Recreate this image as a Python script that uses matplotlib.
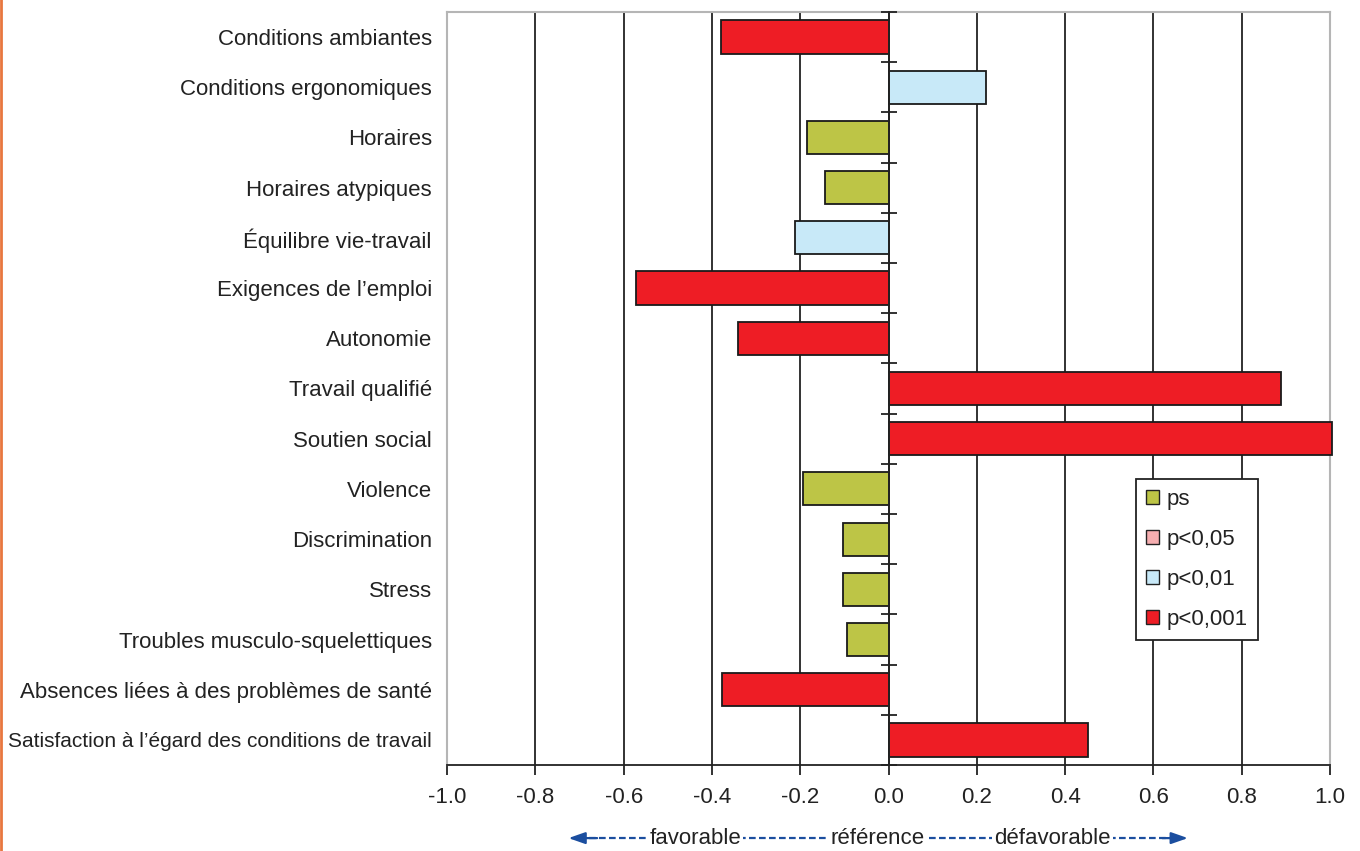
import numpy as np
import matplotlib
matplotlib.use("Agg")
import matplotlib.pyplot as plt
from matplotlib.lines import Line2D
from matplotlib.patches import Patch
import matplotlib.transforms as mtransforms

plt.rcParams['font.family'] = ['Liberation Sans', 'DejaVu Sans']

# ---- donnees ----
categories = [
    "Conditions ambiantes",
    "Conditions ergonomiques",
    "Horaires",
    "Horaires atypiques",
    "Équilibre vie-travail",
    "Exigences de l\u2019emploi",
    "Autonomie",
    "Travail qualifié",
    "Soutien social",
    "Violence",
    "Discrimination",
    "Stress",
    "Troubles musculo-squelettiques",
    "Absences liées à des problèmes de santé",
    "Satisfaction à l\u2019égard des conditions de travail",
]
values = [-0.38, 0.22, -0.185, -0.145, -0.212, -0.572, -0.342, 0.889, 1.005,
          -0.194, -0.104, -0.104, -0.095, -0.378, 0.452]
signif = ["p<0,001", "p<0,01", "ps", "ps", "p<0,01", "p<0,001", "p<0,001",
          "p<0,001", "p<0,001", "ps", "ps", "ps", "ps", "p<0,001", "p<0,001"]

legend_labels = ["ps", "p<0,05", "p<0,01", "p<0,001"]
colors = {"ps": "#BDC546", "p<0,05": "#F6AEB0", "p<0,01": "#C8E9F8", "p<0,001": "#EE1D25"}

xticks = [-1.0, -0.8, -0.6, -0.4, -0.2, 0.0, 0.2, 0.4, 0.6, 0.8, 1.0]

FS = 16

# ---- figure ----
fig = plt.figure(figsize=(13.6, 8.51), dpi=100)
ax = fig.add_axes([0.3287, 0.101, 0.6493, 0.885])

n = len(categories)
ypos = np.arange(n)
ax.barh(ypos, values, height=0.66, color=[colors[s] for s in signif],
        edgecolor="#1a1a1a", linewidth=1.3, zorder=3, clip_on=False)

ax.set_xlim(-1.0, 1.0)
ax.set_ylim(n - 0.5, -0.5)
ax.set_xticks(xticks)
ax.set_xticklabels([f"{v:.1f}" for v in xticks], fontsize=FS)
ax.set_yticks(ypos)
ax.set_yticklabels(categories, fontsize=FS, color="#222222")
# le libelle le plus long est un peu plus serre dans l'original
ax.get_yticklabels()[-1].set_fontsize(15.0)
ax.tick_params(axis="y", length=0, pad=11)
ax.tick_params(axis="x", length=7, width=1.3, color="#222222", pad=9, labelcolor="#222222")
ax.grid(axis="x", color="#222222", linewidth=1.3, zorder=1)

for side in ["top", "right", "left"]:
    ax.spines[side].set_color("#b5b5b5")
    ax.spines[side].set_linewidth(1.5)
ax.spines["bottom"].set_color("#222222")
ax.spines["bottom"].set_linewidth(1.3)

# ligne zero avec petites graduations entre categories
ax2 = ax.twinx()
ax2.set_ylim(n - 0.5, -0.5)
for side in ["top", "right", "bottom"]:
    ax2.spines[side].set_visible(False)
ax2.spines["left"].set_position(("data", 0))
ax2.spines["left"].set_color("#222222")
ax2.spines["left"].set_linewidth(1.3)
ax2.spines["left"].set_zorder(4)
ax2.yaxis.set_ticks_position("left")
ax2.set_yticks(np.arange(n + 1) - 0.5)
ax2.set_yticklabels([])
ax2.tick_params(axis="y", direction="inout", length=12, width=1.3, color="#222222")

# legende
handles = [Patch(facecolor=colors[l], edgecolor="#222222", linewidth=1.0) for l in legend_labels]
leg = ax2.legend(handles, legend_labels, loc="upper left", bbox_to_anchor=(0.78, 0.38),
                 fontsize=FS, frameon=True, fancybox=False, framealpha=1,
                 handlelength=0.6, handleheight=0.6, handletextpad=0.35,
                 labelspacing=0.85, borderpad=0.45, borderaxespad=0)
leg.get_frame().set_edgecolor("#222222")
leg.get_frame().set_linewidth(1.3)
leg.set_zorder(5)
for t in leg.get_texts():
    t.set_color("#222222")

# annotation du bas
trans = mtransforms.blended_transform_factory(ax.transData, ax.transAxes)
ya = -0.097
blue = "#1B4E9F"
ax.plot([-0.70, 0.655], [ya, ya], transform=trans, color=blue, lw=1.6,
        linestyle=(0, (3, 1.5)), clip_on=False)
ax.annotate("", xy=(-0.725, ya), xytext=(-0.66, ya), xycoords=trans, textcoords=trans,
            arrowprops=dict(arrowstyle="-|>,head_length=1.0,head_width=0.35",
                            color=blue, lw=1.6, shrinkA=0, shrinkB=0))
ax.annotate("", xy=(0.678, ya), xytext=(0.62, ya), xycoords=trans, textcoords=trans,
            arrowprops=dict(arrowstyle="-|>,head_length=1.0,head_width=0.35",
                            color=blue, lw=1.6, shrinkA=0, shrinkB=0))
for label, xv in [("favorable", -0.438), ("référence", -0.026), ("défavorable", 0.371)]:
    ax.text(xv, ya, label, transform=trans, ha="center", va="center", fontsize=FS,
            color="#222222", bbox=dict(facecolor="white", edgecolor="none", pad=1.5),
            zorder=6, clip_on=False)

# trait orange a gauche
fig.add_artist(Line2D([0.001, 0.001], [0, 1], transform=fig.transFigure,
                      color="#E8773F", lw=2))

fig.savefig("out.png", dpi=100)
